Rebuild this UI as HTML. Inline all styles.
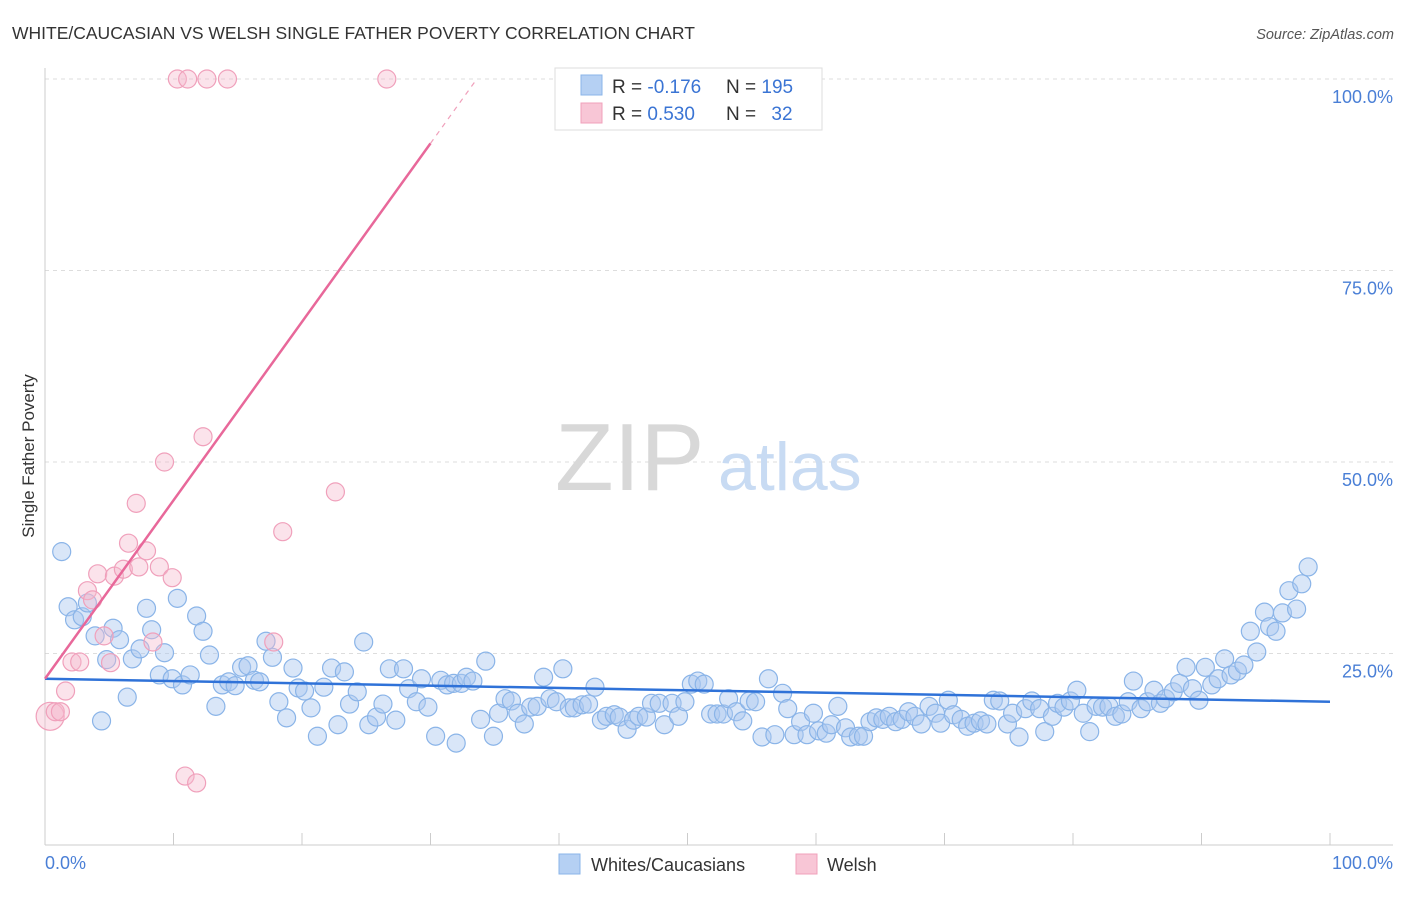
<!DOCTYPE html>
<html><head><meta charset="utf-8"><style>
body{margin:0;background:#fff;font-family:"Liberation Sans",sans-serif;}
svg text{font-family:"Liberation Sans",sans-serif;}
</style></head><body>
<svg id="chart" width="1406" height="892" xmlns="http://www.w3.org/2000/svg">
<text x="12" y="39" font-size="17.5" fill="#333">WHITE/CAUCASIAN VS WELSH SINGLE FATHER POVERTY CORRELATION CHART</text>
<text x="1394" y="39" font-size="14.5" fill="#555" font-style="italic" text-anchor="end">Source: ZipAtlas.com</text>
<text transform="translate(34,456) rotate(-90)" font-size="17" fill="#333" text-anchor="middle">Single Father Poverty</text>
<g id="grid"></g>
<g>
<text x="555" y="490" font-size="96" fill="#d8d8d8" font-family="Liberation Serif,serif">ZIP</text>
<text x="718" y="490" font-size="68" fill="#c8dbf3">atlas</text>
</g>
<g id="blue-pts"></g>
<g id="pink-pts"></g>
<g id="trends"></g>
<g>
<rect x="555" y="68" width="267" height="62" fill="#fff" stroke="#ddd"/>
<rect x="581" y="75" width="21" height="20" fill="#b5d0f3" stroke="#8ab4e8"/>
<rect x="581" y="103" width="21" height="20" fill="#f8c6d6" stroke="#f0a0bb"/>
<text x="612" y="93" font-size="19" fill="#333">R = <tspan fill="#3a74d4">-0.176</tspan></text>
<text x="726" y="93" font-size="19" fill="#333">N = <tspan fill="#3a74d4">195</tspan></text>
<text x="612" y="120" font-size="19" fill="#333">R = <tspan fill="#3a74d4">0.530</tspan></text>
<text x="726" y="120" font-size="19" fill="#333">N = <tspan fill="#3a74d4" dx="10">32</tspan></text>
</g>
<g>
<rect x="559" y="854" width="21" height="20" fill="#b5d0f3" stroke="#8ab4e8"/>
<text x="591" y="871" font-size="18" fill="#333">Whites/Caucasians</text>
<rect x="796" y="854" width="21" height="20" fill="#f8c6d6" stroke="#f0a0bb"/>
<text x="827" y="871" font-size="18" fill="#333">Welsh</text>
</g>
</svg>
<script>
const blueX=[1.3,1.8,2.3,2.9,3.3,3.9,4.4,4.8,5.3,5.8,6.4,6.8,7.4,7.9,8.3,8.9,9.3,9.9,10.3,10.7,11.3,11.8,12.3,12.8,13.3,13.8,14.3,14.8,15.3,15.8,16.3,16.7,17.2,17.7,18.2,18.8,19.3,19.7,20.2,20.7,21.2,21.7,22.3,22.8,23.3,23.7,24.3,24.8,25.2,25.8,26.3,26.8,27.3,27.9,28.3,28.9,29.3,29.8,30.4,30.8,31.3,31.8,32.0,32.4,32.8,33.3,33.9,34.3,34.9,35.3,35.8,36.3,36.8,37.3,37.8,38.3,38.8,39.3,39.8,40.3,40.8,41.2,41.8,42.3,42.8,43.3,43.7,44.3,44.7,45.3,45.8,46.2,46.8,47.2,47.8,48.2,48.8,49.3,49.8,50.3,50.8,51.3,51.8,52.3,52.8,53.2,53.8,54.3,54.8,55.3,55.8,56.3,56.8,57.4,57.8,58.3,58.8,59.3,59.8,60.2,60.8,61.2,61.7,62.3,62.7,63.3,63.7,64.2,64.7,65.2,65.7,66.2,66.7,67.2,67.7,68.2,68.8,69.3,69.7,70.3,70.7,71.3,71.8,72.3,72.8,73.3,73.8,74.3,74.9,75.3,75.8,76.3,76.8,77.4,77.8,78.4,78.8,79.3,79.8,80.3,80.8,81.3,81.8,82.3,82.8,83.3,83.8,84.3,84.7,85.3,85.8,86.3,86.8,87.2,87.8,88.3,88.8,89.3,89.8,90.3,90.8,91.3,91.8,92.3,92.8,93.3,93.8,94.3,94.9,95.3,95.8,96.3,96.8,97.4,97.8,98.3];
const blueY=[38.3,31.1,29.4,29.8,31.6,27.3,16.2,24.2,28.3,26.8,19.3,24.3,25.6,30.9,28.1,22.2,25.1,21.7,32.2,20.9,22.2,29.9,27.9,24.8,18.1,20.9,21.3,20.8,23.2,23.4,21.5,21.3,26.6,24.5,18.7,16.6,23.1,20.5,20.1,17.9,14.2,20.6,23.1,15.7,22.6,18.4,20.0,26.5,15.7,16.7,18.4,23.0,16.3,23.0,20.4,18.7,21.7,18.0,14.2,21.5,20.9,21.1,13.3,21.1,21.9,21.4,16.4,24.0,14.2,17.2,19.1,18.8,17.2,15.8,18.0,18.1,21.9,19.1,18.7,23.0,17.9,17.9,18.3,18.4,20.6,16.3,16.8,17.0,16.7,15.1,16.3,16.8,16.7,18.5,18.5,15.7,18.5,16.8,18.7,21.0,21.4,21.0,17.1,17.1,17.1,19.1,17.4,16.2,18.8,18.7,14.1,21.7,14.4,19.8,17.8,14.4,16.1,14.4,17.2,14.9,14.6,15.7,18.1,15.3,14.1,14.2,14.2,16.1,16.6,16.4,16.8,16.1,16.4,17.4,16.8,15.8,18.1,17.2,15.9,18.9,17.0,16.4,15.5,15.9,16.2,15.8,18.9,18.8,15.8,17.2,14.1,17.8,18.8,17.8,14.8,16.8,18.5,18.0,18.8,20.2,17.2,14.8,18.1,18.0,18.1,16.8,17.1,18.7,21.4,17.8,18.7,20.2,18.5,19.1,20.0,21.1,23.2,20.4,18.9,23.2,20.9,21.7,24.3,22.2,22.7,23.5,27.9,25.2,30.4,28.5,27.9,30.3,33.2,30.8,34.1,36.3];
const pinkX=[0.4,0.8,1.2,1.6,2.1,2.7,3.3,3.7,4.1,4.6,5.1,5.4,6.1,6.5,7.1,7.3,7.9,8.4,8.9,9.3,9.9,10.3,11.1,10.9,11.8,12.3,12.6,14.2,17.8,18.5,22.6,26.6];
const pinkY=[16.8,17.4,17.4,20.1,23.9,23.9,33.2,32.0,35.4,27.3,23.8,35.1,36.0,39.4,44.6,36.3,38.4,26.5,36.3,50.0,34.9,100,100,9.0,8.1,53.3,100,100,26.5,40.9,46.1,100];
const pinkR=[14,9,9,9,9,9,9,9,9,9,9,9,9,9,9,9,9,9,9,9,9,9,9,9,9,9,9,9,9,9,9,9];
const yTicks=[100,75,50,25];
const yTickLabels=["100.0%","75.0%","50.0%","25.0%"];
const xTicks=[10,20,30,40,50,60,70,80,90,100];
const blueTrend=[21.7,18.7];
const pinkTrend=[21.7,2.33];

const X0=45,X1=1330,Y0=845,Y100=79;
const sx=v=>X0+(X1-X0)*v/100;
const sy=v=>Y0-(Y0-Y100)*v/100;
const NS="http://www.w3.org/2000/svg";
function mk(tag,attrs,parent){const e=document.createElementNS(NS,tag);for(const k in attrs)e.setAttribute(k,attrs[k]);parent.appendChild(e);return e;}
const grid=document.getElementById('grid');
yTicks.forEach((t,i)=>{
 const l=mk('line',{x1:45,x2:1393,y1:sy(t),y2:sy(t),stroke:'#ddd','stroke-dasharray':'4,4'},grid);
 
 
 const tx=mk('text',{x:1393,y:sy(t)+24,'font-size':18,fill:'#4a7fd6','text-anchor':'end'},grid);
 tx.textContent=yTickLabels[i];
 
 
});
const ax=mk('line',{x1:45,x2:45,y1:68,y2:845,stroke:'#ccc'},grid);


const bx=mk('line',{x1:45,x2:1393,y1:845,y2:845,stroke:'#ccc'},grid);


xTicks.forEach(t=>{
 const l=mk('line',{x1:sx(t),x2:sx(t),y1:833,y2:845,stroke:'#ccc'},grid);
 
 
});
const xl0=mk('text',{x:45,y:869,'font-size':18,fill:'#4a7fd6'},grid);xl0.textContent='0.0%';


const xl1=mk('text',{x:1393,y:869,'font-size':18,fill:'#4a7fd6','text-anchor':'end'},grid);xl1.textContent='100.0%';



const bg=document.getElementById('blue-pts');
blueX.forEach((x,i)=>{
 const c=mk('circle',{cx:sx(x),cy:sy(blueY[i]),r:9,fill:'rgba(170,200,240,0.45)',stroke:'#8ab4e8','stroke-width':1.2},bg);
 
 
});
const pg=document.getElementById('pink-pts');
pinkX.forEach((x,i)=>{
 const c=mk('circle',{cx:sx(x),cy:sy(pinkY[i]),r:pinkR[i],fill:'rgba(246,185,205,0.4)',stroke:'#f0a0bb','stroke-width':1.2},pg);
 
 
});
const tg=document.getElementById('trends');
const bl=mk('line',{x1:sx(0),y1:sy(blueTrend[0]),x2:sx(100),y2:sy(blueTrend[1]),stroke:'#2f72d8','stroke-width':2.5},tg);


const pe=30, pe2=33.5;
const pl=mk('line',{x1:sx(0),y1:sy(pinkTrend[0]),x2:sx(pe),y2:sy(pinkTrend[0]+pinkTrend[1]*pe),stroke:'#e8689a','stroke-width':2.5},tg);


const pd=mk('line',{x1:sx(pe),y1:sy(pinkTrend[0]+pinkTrend[1]*pe),x2:sx(pe2),y2:sy(pinkTrend[0]+pinkTrend[1]*pe2),stroke:'#f0a0bb','stroke-width':1.2,'stroke-dasharray':'5,5'},tg);


</script>
</body></html>
